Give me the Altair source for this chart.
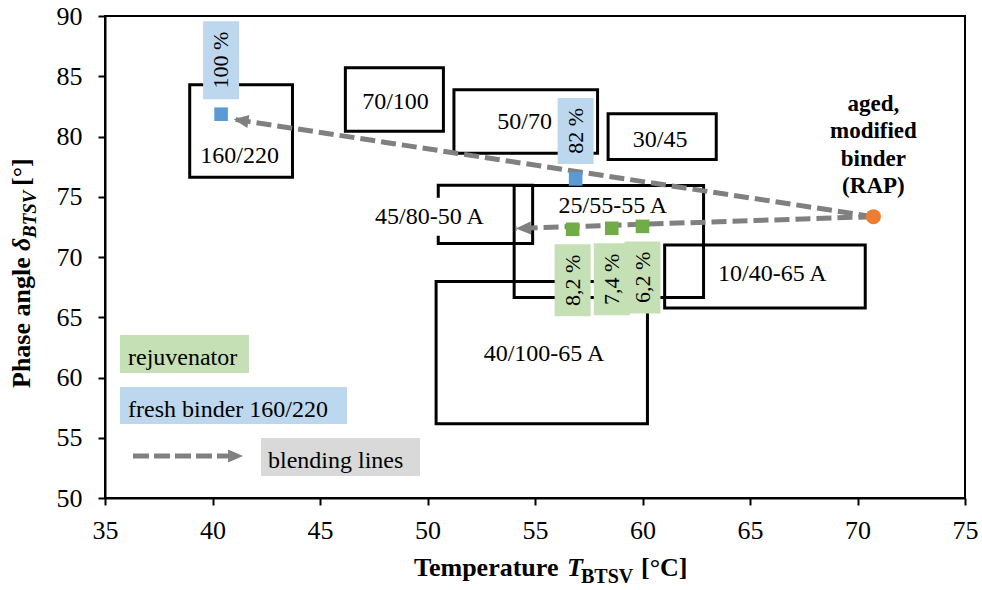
import math
import altair as alt
import pandas as pd

FONT = "Liberation Serif"
W, H = 860, 482
X_DOM, Y_DOM = [35, 75], [50, 90]

# ---- data ----
grades = ["160/220", "70/100", "50/70", "30/45", "45/80-50 A", "25/55-55 A", "10/40-65 A", "40/100-65 A"]
t_min = [38.94, 46.18, 51.23, 58.40, 50.50, 54.03, 61.03, 50.40]
t_max = [43.72, 50.74, 57.91, 63.43, 54.89, 62.84, 70.36, 60.23]
d_min = [76.62, 80.44, 78.61, 78.09, 71.13, 66.64, 65.76, 56.17]
d_max = [84.30, 85.71, 83.88, 81.89, 75.95, 75.93, 71.00, 67.97]
label_t = [41.26, 48.51, 54.52, 60.82, 50.09, 58.62, 66.04, 55.42]
label_d = [78.37, 82.90, 81.19, 79.73, 73.33, 74.26, 68.57, 61.97]

fresh_t = [40.40, 56.89]
fresh_d = [81.85, 76.48]
fresh_share = ["100 %", "82 %"]

rejuv_t = [56.75, 58.57, 60.00]
rejuv_d = [72.30, 72.38, 72.54]
rejuv_share = ["8,2 %", "7,4 %", "6,2 %"]

rap_t = [70.74]
rap_d = [73.35]
rap_text = ["aged,", "modified", "binder", "(RAP)"]

arrow_tip_t = [40.98, 54.11]
arrow_tip_d = [81.43, 72.37]

legend_labels = ["rejuvenator", "fresh binder 160/220", "blending lines"]

# ---- colours / styles ----
BLUE, BLUE_BG = "#5B9BD5", "#BDD7EE"
GREEN, GREEN_BG = "#70AD47", "#C5E0B4"
ORANGE = "#ED7D31"
GREY, GREY_BG = "#808080", "#D9D9D9"
ARROW_HEAD = "M0,0L2.3,-1L2.3,1Z"

boxes = pd.DataFrame({"grade": grades, "t1": t_min, "t2": t_max, "d1": d_min, "d2": d_max,
                      "lt": label_t, "ld": label_d})
fresh = pd.DataFrame({"t": fresh_t, "d": fresh_d, "share": fresh_share})
rejuv = pd.DataFrame({"t": rejuv_t, "d": rejuv_d, "share": rejuv_share})
rap = pd.DataFrame({"t": rap_t, "d": rap_d})

px_x = W / (X_DOM[1] - X_DOM[0])
px_y = H / (Y_DOM[1] - Y_DOM[0])
angles = []
for tt, dd in zip(arrow_tip_t, arrow_tip_d):
    dx = (rap_t[0] - tt) * px_x
    dy = -(rap_d[0] - dd) * px_y
    angles.append(math.degrees(math.atan2(dy, dx)) % 360)
arrows = pd.DataFrame({"t": [rap_t[0]] * len(arrow_tip_t), "d": [rap_d[0]] * len(arrow_tip_t),
                       "t2": arrow_tip_t, "d2": arrow_tip_d, "ang": angles})

xs = alt.Scale(domain=X_DOM, nice=False, zero=False)
ys = alt.Scale(domain=Y_DOM, nice=False, zero=False)
xaxis = alt.Axis(values=list(range(35, 80, 5)), title=None, grid=False, domainColor="black",
                 domainWidth=2, tickColor="black", tickWidth=2, tickSize=7, labelFont=FONT,
                 labelFontSize=26, labelColor="black", labelPadding=12, labelFlush=False,
                 labelOverlap=False)
yaxis = alt.Axis(values=list(range(50, 95, 5)), title=None, grid=False, domainColor="black",
                 domainWidth=2, tickColor="black", tickWidth=2, tickSize=7, labelFont=FONT,
                 labelFontSize=26, labelColor="black", labelPadding=16, labelFlush=False,
                 labelOverlap=False)


def X(f):
    return alt.X(f, type="quantitative", scale=xs, axis=xaxis)


def Y(f):
    return alt.Y(f, type="quantitative", scale=ys, axis=yaxis)


one = pd.DataFrame({"k": [0]})
layers = []

# grade boxes
layers.append(alt.Chart(boxes).mark_rect(fill="transparent", stroke="black", strokeWidth=3,
                                         strokeJoin="miter")
              .encode(x=X("t1"), x2=alt.X2("t2"), y=Y("d1"), y2=alt.Y2("d2")))
# white backing of the 45/80-50 A label
layers.append(alt.Chart(boxes[boxes.grade == "45/80-50 A"])
              .mark_rect(fill="white", xOffset=-60, x2Offset=60, yOffset=-19, y2Offset=19)
              .encode(x=X("lt"), x2=alt.X2("lt"), y=Y("ld"), y2=alt.Y2("ld")))
layers.append(alt.Chart(boxes).mark_text(font=FONT, fontSize=24, color="black", align="center",
                                         baseline="middle")
              .encode(x=X("lt"), y=Y("ld"), text="grade:N"))

# percentage label backgrounds + texts
fresh_box = [(-93, -15), (-81, -15)]
for i in range(len(fresh)):
    row = fresh.iloc[[i]]
    top, bot = fresh_box[i]
    layers.append(alt.Chart(row).mark_rect(fill=BLUE_BG, xOffset=-18, x2Offset=18,
                                           yOffset=top, y2Offset=bot)
                  .encode(x=X("t"), x2=alt.X2("t"), y=Y("d"), y2=alt.Y2("d")))
    layers.append(alt.Chart(row).mark_text(font=FONT, fontSize=22, color="black", angle=270,
                                           align="center", baseline="middle",
                                           yOffset=(top + bot) / 2)
                  .encode(x=X("t"), y=Y("d"), text="share:N"))
layers.append(alt.Chart(rejuv).mark_rect(fill=GREEN_BG, xOffset=-18, x2Offset=18,
                                         yOffset=15, y2Offset=87)
              .encode(x=X("t"), x2=alt.X2("t"), y=Y("d"), y2=alt.Y2("d")))
layers.append(alt.Chart(rejuv).mark_text(font=FONT, fontSize=22, color="black", angle=270,
                                         align="center", baseline="middle", yOffset=51)
              .encode(x=X("t"), y=Y("d"), text="share:N"))

# blending lines
layers.append(alt.Chart(arrows).mark_rule(color=GREY, strokeWidth=5, strokeDash=[15, 6])
              .encode(x=X("t"), y=Y("d"), x2=alt.X2("t2"), y2=alt.Y2("d2")))
layers.append(alt.Chart(arrows).mark_point(shape=ARROW_HEAD, filled=True, size=169, color=GREY,
                                           opacity=1)
              .encode(x=X("t2"), y=Y("d2"), angle=alt.Angle("ang:Q", scale=None)))

# markers
layers.append(alt.Chart(fresh).mark_point(shape="square", filled=True, size=185, color=BLUE,
                                          opacity=1).encode(x=X("t"), y=Y("d")))
layers.append(alt.Chart(rejuv).mark_point(shape="square", filled=True, size=185, color=GREEN,
                                          opacity=1).encode(x=X("t"), y=Y("d")))
layers.append(alt.Chart(rap).mark_point(shape="circle", filled=True, size=225, color=ORANGE,
                                        opacity=1).encode(x=X("t"), y=Y("d")))
layers.append(alt.Chart(rap).mark_text(font=FONT, fontSize=23, fontWeight="bold", color="black",
                                       align="center", baseline="alphabetic", lineHeight=27.6,
                                       yOffset=-106)
              .encode(x=X("t"), y=Y("d"), text=alt.value(rap_text)))

# legend (pixel positions relative to plot origin)
for (x1, x2, y1, y2, col) in [(15, 144, 319, 357, GREEN_BG), (15, 242, 371, 408, BLUE_BG),
                              (156, 315, 422, 460, GREY_BG)]:
    layers.append(alt.Chart(one).mark_rect(fill=col)
                  .encode(x=alt.value(x1), x2=alt.value(x2), y=alt.value(y1), y2=alt.value(y2)))
for txt, (lx, ly) in zip(legend_labels, [(23, 349), (23, 401), (163, 452)]):
    layers.append(alt.Chart(one).mark_text(font=FONT, fontSize=24, color="black", align="left",
                                           baseline="alphabetic", text=txt)
                  .encode(x=alt.value(lx), y=alt.value(ly)))
layers.append(alt.Chart(one).mark_rule(color=GREY, strokeWidth=5, strokeDash=[16, 5])
              .encode(x=alt.value(28), x2=alt.value(125), y=alt.value(440)))
layers.append(alt.Chart(one).mark_point(shape=ARROW_HEAD, filled=True, size=169, color=GREY,
                                        opacity=1, angle=180)
              .encode(x=alt.value(138), y=alt.value(440)))

# axis titles with subscripts
def piece(txt, x, y, size=26, style="normal", angle=0):
    kw = dict(font=FONT, fontSize=size, fontWeight="bold", fontStyle=style, color="black",
              align="left", baseline="alphabetic", text=txt)
    if angle:
        kw["angle"] = angle
    return alt.Chart(one).mark_text(**kw).encode(x=alt.value(x), y=alt.value(y))


layers += [
    piece("Temperature", 309, 560),
    piece("T", 462, 560, style="italic"),
    piece("BTSV", 476, 567, size=20),
    piece("[°C]", 536, 560),
    piece("Phase angle", -75, 372, angle=270),
    piece("δ", -75, 235, style="italic", angle=270),
    piece("BTSV", -69, 222, size=19, style="italic", angle=270),
    piece("[°]", -75, 170, angle=270),
]

chart = (alt.layer(*layers)
         .properties(width=W, height=H,
                     padding={"left": 105, "top": 16, "right": 17, "bottom": 92},
                     autosize=alt.AutoSizeParams(type="none"), background="white")
         .configure_view(stroke="black", strokeWidth=2))

chart.save("out.html", embed_options={"renderer": "svg", "actions": False})
